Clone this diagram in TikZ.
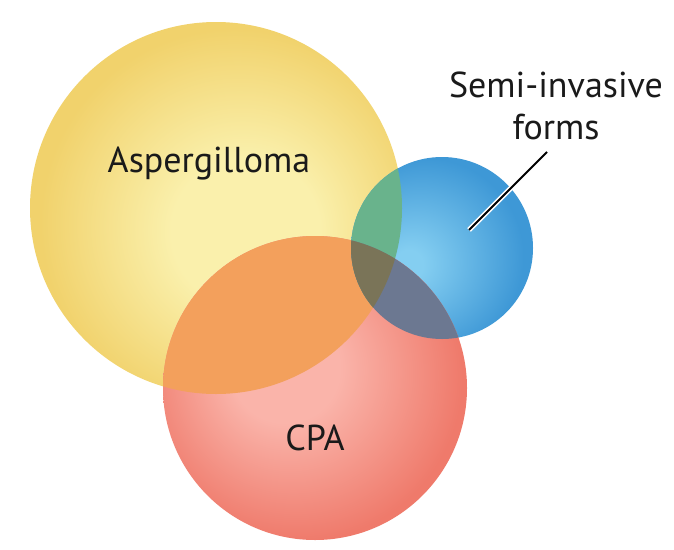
\documentclass[tikz,border=0pt]{standalone}
\usepackage{fontspec}
\setmainfont{PT Sans}
\definecolor{ylout}{HTML}{F1D26C}
\definecolor{ylin}{HTML}{FAF0AC}
\definecolor{blout}{HTML}{3E98D6}
\definecolor{blin}{HTML}{84CEF1}
\definecolor{rdout}{HTML}{EF7A6B}
\definecolor{rdin}{HTML}{FAB4AA}
\definecolor{ovorange}{HTML}{F3A05C}
\definecolor{ovgreen}{HTML}{69B38C}
\definecolor{ovslate}{HTML}{6C7891}
\definecolor{ovolive}{HTML}{7A7458}
\definecolor{txt}{HTML}{1A1A1A}
\pgfdeclareradialshading{yshade}{\pgfpoint{5bp}{-4bp}}{color(0bp)=(ylin); color(10bp)=(ylin); color(26bp)=(ylout); color(50bp)=(ylout)}
\pgfdeclareradialshading{bshade}{\pgfpoint{-10bp}{-5bp}}{color(0bp)=(blin); color(4bp)=(blin); color(27bp)=(blout); color(50bp)=(blout)}
\pgfdeclareradialshading{rshade}{\pgfpoint{-6bp}{4bp}}{color(0bp)=(rdin); color(9bp)=(rdin); color(27bp)=(rdout); color(50bp)=(rdout)}
\tikzset{
  lbl/.style={text=txt, font=\fontsize{36}{42}\selectfont, inner sep=0pt},
}
\begin{document}
\begin{tikzpicture}[x=1pt,y=-1pt]
\useasboundingbox[fill=white] (0,0) rectangle (674,549);
\coordinate (cy) at (216,208);
\coordinate (cb) at (442,248);
\coordinate (cr) at (315,388);
\shade[shading=yshade] (cy) circle[radius=186];
\shade[shading=bshade] (cb) circle[radius=91];
\shade[shading=rshade] (cr) circle[radius=152];
\begin{scope}
  \clip (cy) circle[radius=186];
  \fill[ovorange] (cr) circle[radius=152];
  \fill[ovgreen] (cb) circle[radius=91];
\end{scope}
\begin{scope}
  \clip (cr) circle[radius=152];
  \fill[ovslate] (cb) circle[radius=91];
  \clip (cb) circle[radius=91];
  \fill[ovolive] (cy) circle[radius=186];
\end{scope}
\node[lbl] (asp) at (209,164) {Aspergilloma};
\node[lbl] (cpa) at (315,438) {CPA};
\node[lbl, align=center] (semi) at (556,106) {Semi-invasive\\forms};
\coordinate (ls) at (547,152);
\coordinate (le) at (469,230);
\draw[white, line width=5] (ls) -- (le);
\draw[black, line width=1.8] (ls) -- (le);
\end{tikzpicture}
\end{document}
